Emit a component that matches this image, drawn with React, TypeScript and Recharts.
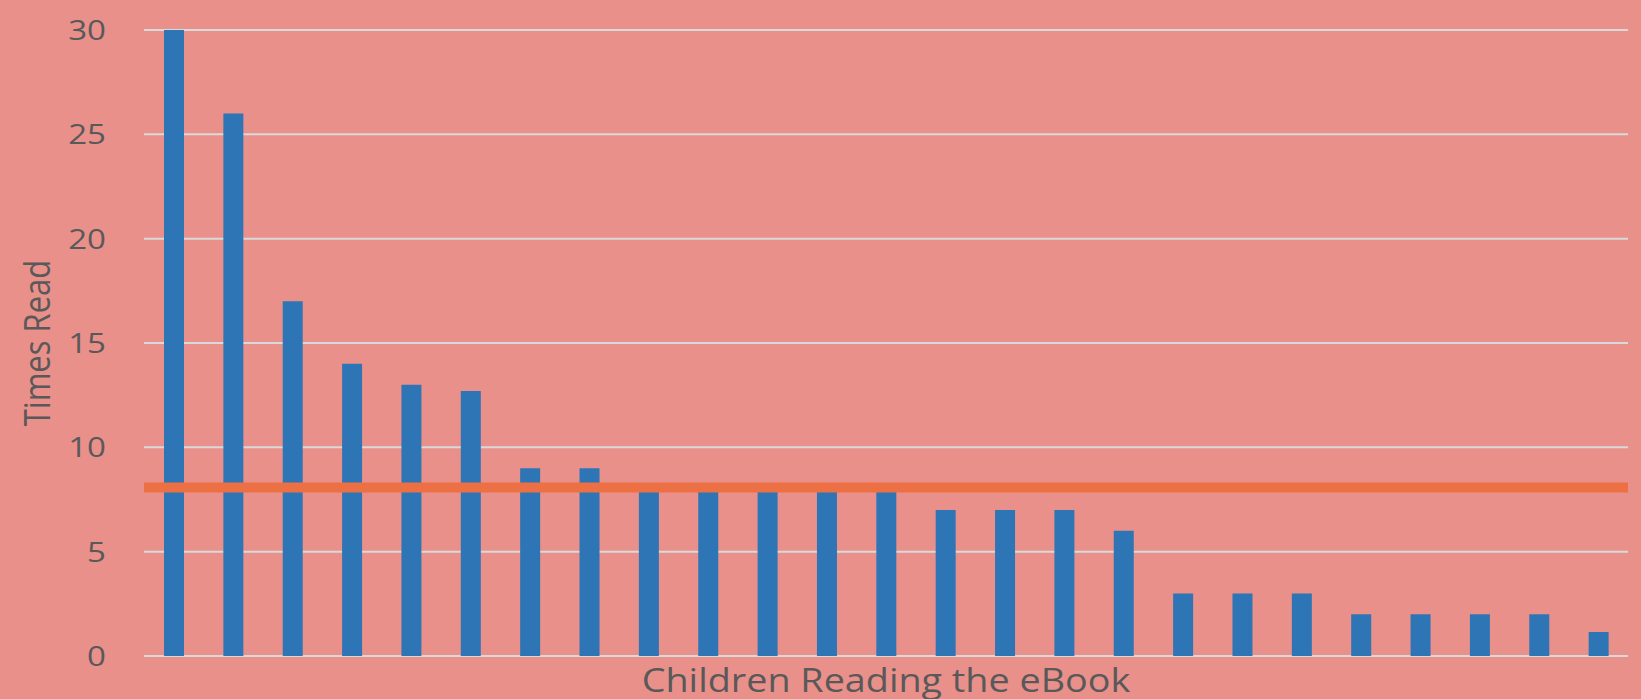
import { BarChart, Bar, XAxis, YAxis, CartesianGrid, ReferenceLine } from "recharts";

// one entry per child, sorted by reads
const childLabels = [
  "Child 1", "Child 2", "Child 3", "Child 4", "Child 5",
  "Child 6", "Child 7", "Child 8", "Child 9", "Child 10",
  "Child 11", "Child 12", "Child 13", "Child 14", "Child 15",
  "Child 16", "Child 17", "Child 18", "Child 19", "Child 20",
  "Child 21", "Child 22", "Child 23", "Child 24", "Child 25",
];
const timesRead = [30, 26, 17, 14, 13, 12.7, 9, 9, 8, 8, 8, 8, 8, 7, 7, 7, 6, 3, 3, 3, 2, 2, 2, 2, 1.15];
const yTicks = [0, 5, 10, 15, 20, 25, 30];
const averageRead = 8.08;

const textColor = "#595959";
const font = "'Open Sans', 'DejaVu Sans', sans-serif";
const stretch = 1.18; // the original text is a bit wider than normal

const YTick = ({ x, y, payload }: any) => (
  <text
    transform={`translate(${x},${y + 10}) scale(${stretch},1)`}
    textAnchor="end"
    fill={textColor}
    fontSize={28}
    fontFamily={font}
  >
    {payload.value}
  </text>
);

const XLabel = (props: any) => {
  const vb = props.viewBox || { x: 144, y: 656, width: 1484, height: 43 };
  return (
    <text
      transform={`translate(${vb.x + vb.width / 2},${vb.y + 36}) scale(${stretch},1)`}
      textAnchor="middle"
      fill={textColor}
      fontSize={32}
      fontFamily={font}
    >
      Children Reading the eBook
    </text>
  );
};

const YLabel = (props: any) => {
  const vb = props.viewBox || { x: 0, y: 30, width: 144, height: 626 };
  return (
    <text
      transform={`translate(${vb.x + 50},${vb.y + vb.height / 2}) scale(${stretch},1) rotate(-90)`}
      textAnchor="middle"
      fill={textColor}
      fontSize={31}
      fontFamily={font}
    >
      Times Read
    </text>
  );
};

const App = () => {
  const chartData = childLabels.map((name, i) => ({ name, reads: timesRead[i] }));

  return (
    <div style={{ width: 1641, height: 699, background: "#E9908B" }}>
      <style>{`body { margin: 0; }`}</style>
      <BarChart
        width={1641}
        height={699}
        data={chartData}
        margin={{ top: 30, right: 13, bottom: 0, left: 0 }}
      >
        <CartesianGrid vertical={false} stroke="#D9D9D9" strokeWidth={2} />
        <XAxis
          dataKey="name"
          tick={false}
          tickLine={false}
          axisLine={false}
          height={43}
          label={XLabel}
        />
        <YAxis
          width={144}
          domain={[0, 30]}
          ticks={yTicks}
          tickLine={false}
          axisLine={false}
          tickSize={0}
          tickMargin={38}
          tick={YTick}
          label={YLabel}
        />
        <Bar dataKey="reads" fill="#2E75B6" barSize={20} isAnimationActive={false} />
        <ReferenceLine y={averageRead} stroke="#EC7044" strokeWidth={10} />
      </BarChart>
    </div>
  );
};

export default App;
